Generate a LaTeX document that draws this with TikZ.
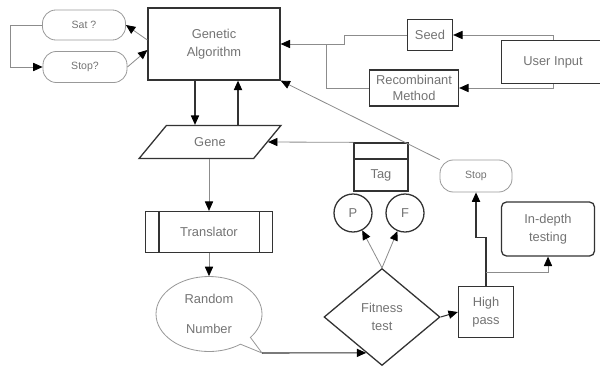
\documentclass[tikz,border=0pt]{standalone}
\usepackage{fontspec}
\setmainfont{Liberation Sans}
\usetikzlibrary{shapes,shapes.geometric,shapes.callouts,arrows.meta,calc}

\begin{document}
\begin{tikzpicture}[x=0.03cm, y=-0.03cm,
    font=\fontsize{11}{15}\selectfont,
    block/.style={rectangle, draw=black!80, line width=1.1pt, align=center, text=black!55},
    term/.style={rectangle, rounded corners=0.4cm, draw=black!40, line width=0.7pt, align=center, text=black!55, font=\fontsize{9}{11}\selectfont},
    arrow/.style={-{Triangle[length=8pt,width=7pt,color=black]}, draw=black!80, line width=0.9pt},
    lightarrow/.style={arrow, draw=black!45, line width=0.7pt}
]
\useasboundingbox (0,0) rectangle (600,370);

% top row
\node[block, minimum width=3.96cm, minimum height=2.16cm] (ga) at (214,44) {Genetic\\Algorithm};
\node[term, minimum width=2.49cm, minimum height=0.9cm] (sat) at (84,25) {Sat ?};
\node[term, minimum width=2.52cm, minimum height=0.93cm] (stopq) at (85,67) {Stop?};
\node[block, minimum width=1.35cm, minimum height=0.93cm] (seed) at (430,35) {Seed};
\node[block, minimum width=2.67cm, minimum height=1.08cm, font=\fontsize{11}{13}\selectfont] (recomb) at (414,88) {Recombinant\\Method};
\node[block, minimum width=3.1cm, minimum height=1.29cm] (user) at (553,62) {User Input};
\coordinate (join) at (326,44);

% middle
\node[trapezium, trapezium left angle=54, trapezium right angle=126, trapezium stretches=true,
      draw=black!80, line width=1.1pt, text=black!55, minimum width=4.26cm, minimum height=0.99cm] (gene) at (210,142) {Gene};
\node[block, minimum width=1.62cm, minimum height=0.48cm] (tagtop) at (381,151) {};
\node[block, minimum width=1.62cm, minimum height=0.96cm] (tag) at (381,175) {Tag};
\node[circle, draw=black!80, line width=1.1pt, text=black!55, minimum size=1.14cm] (p) at (353,213) {P};
\node[circle, draw=black!80, line width=1.1pt, text=black!55, minimum size=1.14cm] (f) at (405,213) {F};
\node[term, minimum width=2.16cm, minimum height=0.96cm] (stop) at (476,176) {Stop};
\node[block, rounded corners=0.15cm, minimum width=2.79cm, minimum height=1.62cm] (depth) at (548,229) {In-depth\\testing};

% bottom
\node[block, minimum width=3.81cm, minimum height=1.23cm] (trans) at (209,232) {Translator};
\draw[black!80, line width=1.1pt] ([xshift=0.42cm]trans.north west) -- ([xshift=0.42cm]trans.south west);
\draw[black!80, line width=1.1pt] ([xshift=-0.42cm]trans.north east) -- ([xshift=-0.42cm]trans.south east);
\coordinate (tail) at (262,353);
\node[ellipse callout, callout absolute pointer={(tail)}, draw=black!40, line width=0.7pt, align=center, text=black!55,
      minimum width=3.18cm, minimum height=2.25cm] (rand) at (209,314) {Random\\[10pt]Number};
\node[diamond, draw=black!80, line width=1.1pt, align=center, text=black!55,
      minimum width=3.48cm, minimum height=2.91cm] (fitness) at (382,317) {Fitness\\test};
\node[block, minimum width=1.65cm, minimum height=1.53cm] (high) at (486,312) {High\\pass};

% connectors
\draw[lightarrow] ([yshift=0.12cm]ga.west) -- (sat.east);
\draw[lightarrow] (stopq.east) -- ([yshift=-0.18cm]ga.west);
\draw[lightarrow] (sat.west) -- ++(-32,0) |- (stopq.west);
\draw[arrow] ([xshift=-0.57cm]ga.south) -- ([xshift=-0.57cm]ga.south |- gene.north);
\draw[arrow] ([xshift=0.72cm]ga.south |- gene.north) -- ([xshift=0.72cm]ga.south);
\draw[lightarrow] (seed.west) -- ++(-62,0) -- ++(0,9) -- (ga.east);
\draw[black!45, line width=0.7pt] (recomb.west) -| (join);
\draw[lightarrow] (user.north) |- (seed.east);
\draw[lightarrow] (user.south) |- (recomb.east);
\draw[lightarrow] (stop.north west) -- (ga.south east);
\draw[lightarrow] (tagtop.north west) -- (gene.east);
\draw[lightarrow] (trans.north |- gene.south) -- (trans.north);
\draw[lightarrow] (trans.south) -- (rand.north);
\draw[arrow] (tail) -- ($(fitness.west)!0.73!(fitness.south)$);
\draw[lightarrow] (fitness.north) -- (p);
\draw[lightarrow] (fitness.north) -- (f);
\draw[arrow] (fitness.east) -- (high.west);
\draw[arrow] (high.north) -- ++(0,-48) -| (stop.south);
\draw[lightarrow] ([yshift=0.4cm]high.north) -| (depth.south);
\end{tikzpicture}
\end{document}
